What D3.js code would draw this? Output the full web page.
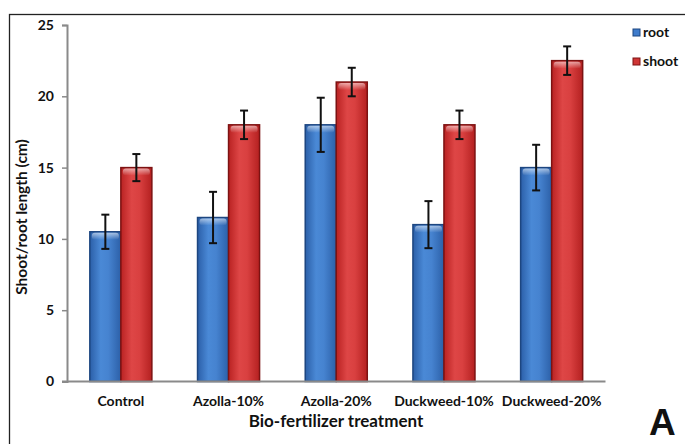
<!DOCTYPE html>
<html><head><meta charset="utf-8">
<script src="https://cdn.jsdelivr.net/npm/d3@7"></script>
<style>
html,body{margin:0;padding:0;background:#fff;}
svg{display:block;}
text{font-family:Lato,"Open Sans",sans-serif;font-weight:bold;fill:#111;}
</style></head>
<body>
<svg id="chart" width="685" height="444"></svg>
<script>
const categories = ["Control","Azolla-10%","Azolla-20%","Duckweed-10%","Duckweed-20%"];
const seriesNames = ["root","shoot"];
const rootValues = [10.5, 11.5, 18, 11, 15];
const rootErrors = [1.2, 1.8, 1.9, 1.65, 1.6];
const shootValues = [15, 18, 21, 18, 22.5];
const shootErrors = [0.95, 1.0, 1.0, 1.0, 1.0];
const yTicks = [0,5,10,15,20,25];

const svg = d3.select("#chart");
const x0 = d3.scaleBand().domain(categories).range([67,605.5]).paddingInner(0.424).paddingOuter(0.212);
const x1 = d3.scaleBand().domain(seriesNames).range([0,x0.bandwidth()]).padding(0);
const y = d3.scaleLinear().domain([0,25]).range([381.5,25]);

// frame
svg.append("rect").attr("x",9.5).attr("y",14.5).attr("width",720).attr("height",500)
  .attr("fill","none").attr("stroke","#222").attr("stroke-width",1.3);

const defs = svg.append("defs");
function hgrad(id, stops){
  const g = defs.append("linearGradient").attr("id",id).attr("x1","0").attr("x2","1").attr("y1","0").attr("y2","0");
  stops.forEach(s=>g.append("stop").attr("offset",s[0]).attr("stop-color",s[1]));
}
hgrad("gRoot",[[0,"#2b5fa8"],[0.35,"#4a89d6"],[0.6,"#4683d0"],[1,"#2c60a8"]]);
hgrad("gShoot",[[0,"#b92222"],[0.35,"#de4646"],[0.6,"#d94040"],[1,"#b42020"]]);
const cap = defs.append("linearGradient").attr("id","gCap").attr("x1","0").attr("x2","0").attr("y1","0").attr("y2","1");
cap.append("stop").attr("offset",0).attr("stop-color","#fff").attr("stop-opacity",0.55);
cap.append("stop").attr("offset",1).attr("stop-color","#fff").attr("stop-opacity",0.0);

const colors = {root:{fill:"url(#gRoot)",stroke:"#1d4680"},shoot:{fill:"url(#gShoot)",stroke:"#7c1212"}};

// y axis
const yAxis = d3.axisLeft(y).tickValues(yTicks).tickSize(5).tickPadding(8);
const gy = svg.append("g").attr("transform","translate(67,0)").call(yAxis);
gy.select(".domain").attr("stroke","#8a8a8a").attr("stroke-width",2);
gy.selectAll(".tick line").attr("stroke","#8a8a8a").attr("stroke-width",1.5);
gy.selectAll(".tick text").style("font-size","14px").style("font-family","Lato, sans-serif").style("font-weight","bold").attr("fill","#111");

// bars
const data = categories.map((c,i)=>({cat:c, vals:[
  {s:"root",v:rootValues[i],e:rootErrors[i]},
  {s:"shoot",v:shootValues[i],e:shootErrors[i]}]}));
const groups = svg.append("g").selectAll("g").data(data).join("g")
  .attr("transform",d=>`translate(${x0(d.cat)},0)`);
groups.selectAll("rect.bar").data(d=>d.vals).join("rect").attr("class","bar")
  .attr("x",d=>x1(d.s)).attr("y",d=>y(d.v)).attr("width",x1.bandwidth()).attr("height",d=>y(0)-y(d.v))
  .attr("fill",d=>colors[d.s].fill).attr("stroke",d=>colors[d.s].stroke).attr("stroke-width",1.5);
groups.selectAll("rect.cap").data(d=>d.vals).join("rect").attr("class","cap")
  .attr("x",d=>x1(d.s)+2).attr("y",d=>y(d.v)+1).attr("width",x1.bandwidth()-4).attr("height",7)
  .attr("rx",3).attr("fill","url(#gCap)");
// error bars
const eb = groups.selectAll("g.err").data(d=>d.vals).join("g").attr("class","err")
  .attr("stroke","#111").attr("stroke-width",2);
eb.append("line").attr("x1",d=>x1(d.s)+x1.bandwidth()/2).attr("x2",d=>x1(d.s)+x1.bandwidth()/2)
  .attr("y1",d=>y(d.v+d.e)).attr("y2",d=>y(d.v-d.e));
eb.append("line").attr("x1",d=>x1(d.s)+x1.bandwidth()/2-4).attr("x2",d=>x1(d.s)+x1.bandwidth()/2+4)
  .attr("y1",d=>y(d.v+d.e)).attr("y2",d=>y(d.v+d.e));
eb.append("line").attr("x1",d=>x1(d.s)+x1.bandwidth()/2-4).attr("x2",d=>x1(d.s)+x1.bandwidth()/2+4)
  .attr("y1",d=>y(d.v-d.e)).attr("y2",d=>y(d.v-d.e));

// x axis
const xAxis = d3.axisBottom(x0).tickSize(0).tickPadding(15);
const gx = svg.append("g").attr("transform",`translate(0,${y(0)})`).call(xAxis);
gx.select(".domain").attr("stroke","#8a8a8a").attr("stroke-width",2).attr("d","M62,0H605.5");
gx.selectAll(".tick text").style("font-size","14px").style("font-family","Lato, sans-serif").style("font-weight","bold").attr("fill","#111");

// axis titles
svg.append("text").attr("x",336).attr("y",427).attr("text-anchor","middle").style("font-size","17px").text("Bio-fertilizer treatment");
svg.append("text").attr("transform","translate(27,217) rotate(-90)").attr("text-anchor","middle").style("font-size","15.5px").text("Shoot/root length (cm)");

// legend
const leg = svg.append("g").selectAll("g").data(seriesNames).join("g")
  .attr("transform",(d,i)=>`translate(633,${29+i*29})`);
leg.append("rect").attr("width",7).attr("height",7).attr("fill",d=>d==="root"?"#3f7ccc":"#cf3535").attr("stroke",d=>colors[d].stroke);
leg.append("text").attr("x",10).attr("y",7.5).style("font-size","14px").text(d=>d);

// panel letter
svg.append("text").attr("x",649).attr("y",435).style("font-family","'Liberation Sans',Arial,sans-serif").style("font-size","37px").style("font-weight","bold").text("A");
</script>
</body></html>
